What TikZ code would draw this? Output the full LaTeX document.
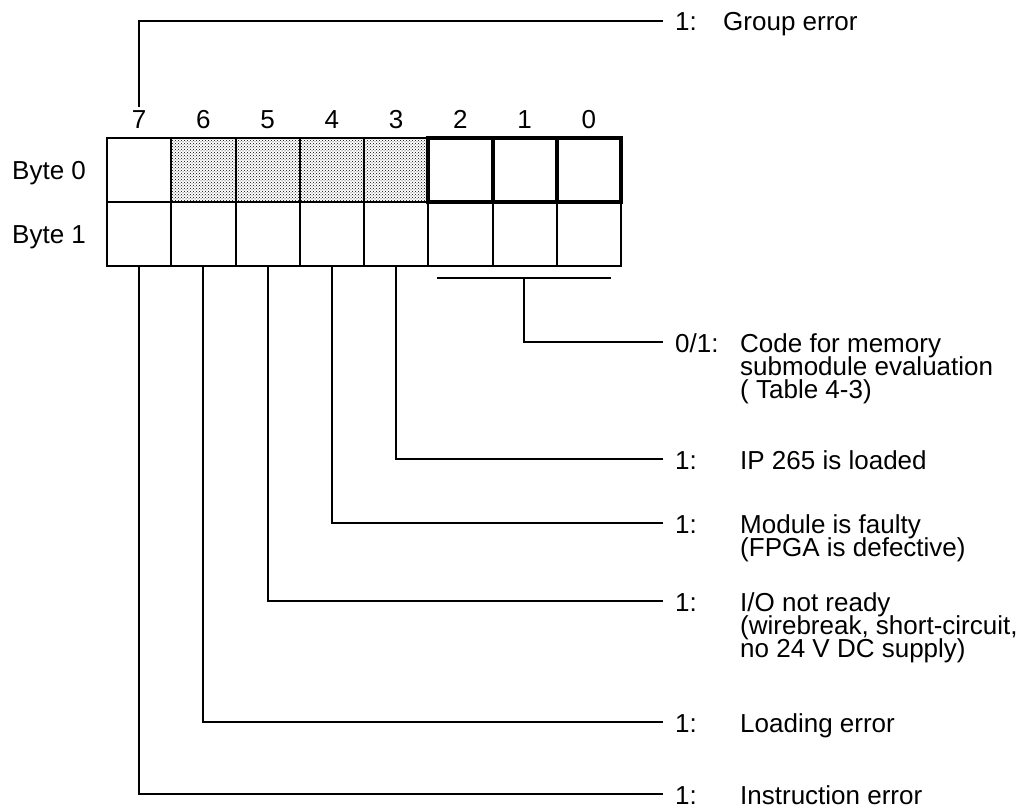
\documentclass[tikz,border=0pt]{standalone}
\usepackage{fontspec}
\setmainfont{Liberation Sans}
\usetikzlibrary{patterns}
\begin{document}
\begin{tikzpicture}[x=1pt,y=-1pt,
  cell/.style={draw,line width=2pt,minimum width=64.25pt,minimum height=64pt,inner sep=0pt,outer sep=0pt},
  shaded/.style={cell,pattern=crosshatch dots,pattern color=black},
  boldcell/.style={cell,line width=4pt},
  txt/.style={font=\fontsize{26}{23}\selectfont,inner sep=0pt,anchor=base west},
  digit/.style={font=\fontsize{26}{23}\selectfont,inner sep=0pt,anchor=base},
  wire/.style={line width=2pt}]
\useasboundingbox (0,0) rectangle (1030,808);

% byte 1 row (plain cells)
\foreach \b [count=\i from 0] in {7,6,5,4,3,2,1,0}
  \node[cell] (r1-\b) at ({139.125+64.25*\i},234) {};
% byte 0 row
\node[cell] (r0-7) at (139.125,170) {};
\foreach \b [count=\i from 1] in {6,5,4,3}
  \node[shaded] (r0-\b) at ({139.125+64.25*\i},170) {};
\foreach \b [count=\i from 5] in {2,1,0}
  \node[boldcell] (r0-\b) at ({139.125+64.25*\i},170) {};

% bit numbers above byte 0
\foreach \b in {7,6,5,4,3,2,1,0}
  \node[digit] (n\b) at ([yshift=10pt]r0-\b.north) {\b};

% byte labels
\node[txt] (byte0) at (12,179) {Byte 0};
\node[txt] (byte1) at (12,243) {Byte 1};

% end points of the leader lines
\coordinate (e7top) at (663,21);
\coordinate (e21) at (663,342);
\coordinate (e3) at (663,459);
\coordinate (e4) at (663,523);
\coordinate (e5) at (663,601);
\coordinate (e6) at (663,722);
\coordinate (e7) at (663,794);

% group error
\draw[wire] ([yshift=3pt]n7.north) |- (e7top);
\node[txt] (v7top) at (675,31) {1:};
\node[txt] (t7top) at (723,31) {Group error};

% bracket under bits 2..0 of byte 1
\coordinate (brl) at (437,278);
\coordinate (brr) at (611,278);
\coordinate (brm) at (524,278);
\draw[wire] (brl) -- (brr);
\draw[wire] (brm) |- (e21);
\node[txt] (v21) at (675,352) {0/1:};
\node[txt] (t21a) at (740,352) {Code for memory};
\node[txt] (t21b) at (740,375) {submodule evaluation};
\node[txt] (t21c) at (740,398) {( Table 4-3)};

% bit 3
\draw[wire] (r1-3.south) |- (e3);
\node[txt] (v3) at (675,469) {1:};
\node[txt] (t3) at (740,469) {IP 265 is loaded};

% bit 4
\draw[wire] (r1-4.south) |- (e4);
\node[txt] (v4) at (675,533) {1:};
\node[txt] (t4a) at (740,533) {Module is faulty};
\node[txt] (t4b) at (740,556) {(FPGA is defective)};

% bit 5
\draw[wire] (r1-5.south) |- (e5);
\node[txt] (v5) at (675,611) {1:};
\node[txt] (t5a) at (740,611) {I/O not ready};
\node[txt] (t5b) at (740,634) {(wirebreak, short-circuit,};
\node[txt] (t5c) at (740,657) {no 24 V DC supply)};

% bit 6
\draw[wire] (r1-6.south) |- (e6);
\node[txt] (v6) at (675,732) {1:};
\node[txt] (t6) at (740,732) {Loading error};

% bit 7
\draw[wire] (r1-7.south) |- (e7);
\node[txt] (v7) at (675,804) {1:};
\node[txt] (t7) at (740,804) {Instruction error};
\end{tikzpicture}
\end{document}
